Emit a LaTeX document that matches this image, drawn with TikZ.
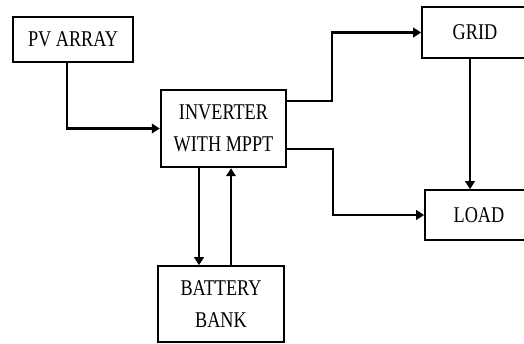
\documentclass[tikz,border=0pt]{standalone}
\usepackage{fontspec}
\setmainfont{Liberation Serif}[FakeStretch=0.81]
\usetikzlibrary{arrows.meta}
\tikzset{
  thickbox/.style={draw, line width=2.4pt, minimum width=#1, inner sep=0pt, align=center},
  thinbox/.style={draw, line width=1.6pt, minimum width=#1, inner sep=0pt, align=center},
  flow/.style={line width=2.2pt, -{Triangle[length=8pt,width=9.5pt]}}
}
\begin{document}
\begin{tikzpicture}[x=1pt, y=-1pt, font=\fontsize{22.5}{32}\selectfont]
\useasboundingbox (0,0) rectangle (524,343);
\node[thickbox=120pt, minimum height=45pt] (pv) at (73,39.5) {PV ARRAY};
\node[thickbox=125pt, minimum height=77pt] (inv) at (223.5,128.5) {INVERTER\\WITH MPPT};
\node[thinbox=106pt, minimum height=51pt] (grid) at (475,32.5) {GRID};
\node[thinbox=108pt, minimum height=50pt] (load) at (479,215) {LOAD};
\node[thinbox=126pt, minimum height=76pt] (bat) at (221,304) {BATTERY\\BANK};
\draw[flow] ([xshift=-6pt]pv.south) |- (inv.west);
\draw[flow] ([yshift=27.5pt]inv.east) -- ++(45,0) |- (grid.west);
\draw[flow] ([yshift=-20.5pt]inv.east) -- ++(46,0) |- (load.west);
\draw[flow] ([xshift=-5pt]grid.south) -- ([xshift=-9pt]load.north);
\draw[flow] ([xshift=-24.5pt]inv.south) -- ([xshift=-22pt]bat.north);
\draw[flow] ([xshift=10pt]bat.north) -- ([xshift=7.5pt]inv.south);
\end{tikzpicture}
\end{document}
